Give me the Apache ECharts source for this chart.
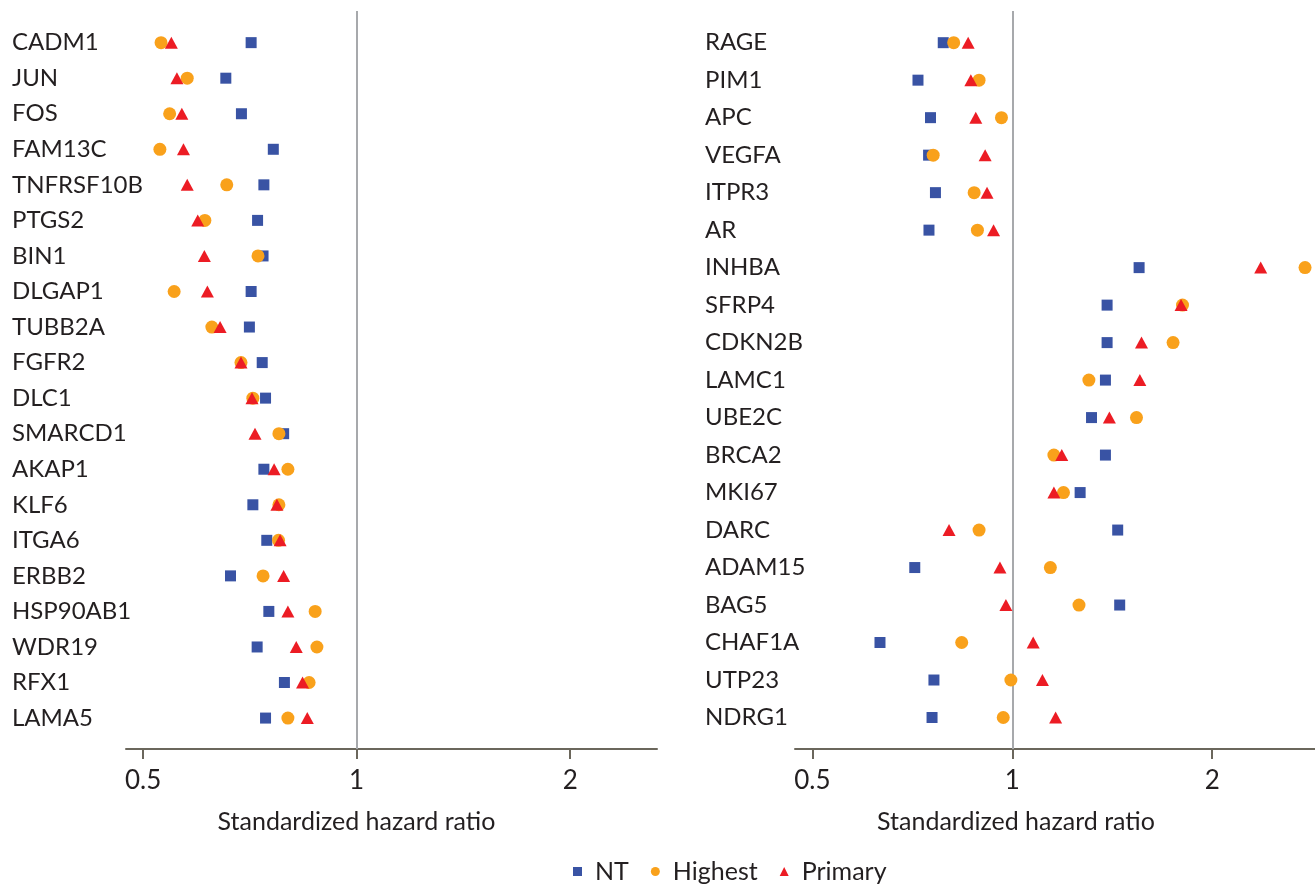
<!DOCTYPE html>
<html>
<head>
<meta charset="utf-8">
<script src="https://cdn.jsdelivr.net/npm/echarts@6/dist/echarts.min.js"></script>
<style>
html,body{margin:0;padding:0;background:#fff;}
#chart{width:1315px;height:884px;}
</style>
</head>
<body>
<div id="chart"></div>
<script>
// ---- Data (standardized hazard ratios) ----
const leftGenes = ['CADM1','JUN','FOS','FAM13C','TNFRSF10B','PTGS2','BIN1','DLGAP1','TUBB2A','FGFR2','DLC1','SMARCD1','AKAP1','KLF6','ITGA6','ERBB2','HSP90AB1','WDR19','RFX1','LAMA5'];
const leftNT      = [0.710,0.654,0.688,0.763,0.740,0.725,0.738,0.710,0.706,0.736,0.744,0.789,0.740,0.714,0.747,0.664,0.752,0.724,0.791,0.744];
const leftHighest = [0.530,0.577,0.545,0.528,0.656,0.611,0.726,0.553,0.625,0.687,0.714,0.777,0.800,0.777,0.776,0.738,0.874,0.879,0.857,0.800];
const leftPrimary = [0.548,0.558,0.567,0.570,0.577,0.597,0.610,0.616,0.642,0.687,0.712,0.719,0.765,0.772,0.780,0.789,0.800,0.822,0.839,0.852];

const rightGenes = ['RAGE','PIM1','APC','VEGFA','ITPR3','AR','INHBA','SFRP4','CDKN2B','LAMC1','UBE2C','BRCA2','MKI67','DARC','ADAM15','BAG5','CHAF1A','UTP23','NDRG1'];
const rightNT      = [0.787,0.721,0.753,0.748,0.766,0.749,1.552,1.389,1.389,1.381,1.316,1.381,1.265,1.441,0.713,1.451,0.632,0.762,0.757];
const rightHighest = [0.816,0.891,0.963,0.760,0.876,0.886,2.759,1.804,1.746,1.304,1.538,1.155,1.194,0.891,1.141,1.260,0.839,0.995,0.969];
const rightPrimary = [0.858,0.866,0.881,0.910,0.916,0.937,2.366,1.795,1.565,1.556,1.400,1.187,1.155,0.803,0.958,0.978,1.075,1.110,1.162];

const xTicks = [0.5, 1, 2];
const seriesNames = ['NT', 'Highest', 'Primary'];
const refValue = 1;

// ---- Styles ----
const FONT = 'Lato';
const TEXT = '#231f20';
const AXIS = '#6b675c';
const COLORS = {NT: '#3953a4', Highest: '#f9a11b', Primary: '#ec1c24'};
const SYMBOLS = {NT: 'rect', Highest: 'circle', Primary: 'triangle'};
const SIZES = {NT: 11, Highest: 13, Primary: [13, 12]};

function xAxisCfg(gridIndex, min, max, namePadRight) {
  return {
    type: 'log', logBase: 2, gridIndex, min, max, position: 'bottom',
    axisLine: {show: true, onZero: false, lineStyle: {color: AXIS, width: 2}},
    axisTick: {show: true, length: 10, lineStyle: {color: AXIS, width: 2}, customValues: xTicks},
    axisLabel: {show: true, customValues: xTicks, margin: 19, color: TEXT, fontFamily: FONT, fontSize: 26,
      formatter: v => String(v)},
    splitLine: {show: false},
    name: 'Standardized hazard ratio', nameLocation: 'middle', nameGap: 60,
    nameTextStyle: {color: TEXT, fontFamily: FONT, fontSize: 25, padding: [0, namePadRight, 0, 0]}
  };
}
function yAxisCfg(gridIndex, genes, min, max, margin) {
  return {
    type: 'value', gridIndex, inverse: true, min, max,
    axisLine: {show: false}, axisTick: {show: false}, splitLine: {show: false},
    axisLabel: {show: true, customValues: genes.map((g, i) => i), align: 'left', margin,
      color: TEXT, fontFamily: FONT, fontSize: 24,
      formatter: v => genes[Math.round(v)] || ''}
  };
}
function makeSeries(name, values, axisIdx, withRef) {
  const s = {
    name, type: 'scatter', xAxisIndex: axisIdx, yAxisIndex: axisIdx,
    symbol: SYMBOLS[name], symbolSize: SIZES[name],
    itemStyle: {color: COLORS[name], opacity: 1},
    data: values.map((v, i) => [v, i]),
    z: 3, silent: true
  };
  if (withRef) {
    s.markLine = {
      silent: true, symbol: ['none', 'none'], label: {show: false}, z: 1,
      lineStyle: {color: '#a7a9ac', width: 2, type: 'solid'},
      data: [{xAxis: refValue}]
    };
  }
  return s;
}

const option = {
  animation: false,
  backgroundColor: '#ffffff',
  grid: [
    {left: 126, top: 11, width: 531, height: 738},
    {left: 795, top: 11, width: 520, height: 738}
  ],
  xAxis: [xAxisCfg(0, 0.473, 2.651, 70), xAxisCfg(1, 0.4707, 2.856, 78)],
  yAxis: [yAxisCfg(0, leftGenes, -0.89, 19.87, 114), yAxisCfg(1, rightGenes, -0.845, 18.84, 90)],
  legend: {
    left: 568, top: 854, itemGap: 22, itemWidth: 9, itemHeight: 9,
    textStyle: {color: TEXT, fontFamily: FONT, fontSize: 25, padding: [0, 0, 0, 8]},
    data: seriesNames.map(n => ({name: n, icon: SYMBOLS[n], itemStyle: {color: COLORS[n]}}))
  },
  series: [
    makeSeries('NT', leftNT, 0, true),
    makeSeries('Highest', leftHighest, 0, false),
    makeSeries('Primary', leftPrimary, 0, false),
    makeSeries('NT', rightNT, 1, true),
    makeSeries('Highest', rightHighest, 1, false),
    makeSeries('Primary', rightPrimary, 1, false)
  ]
};
const chart = echarts.init(document.getElementById('chart'), null, {renderer: 'canvas'});
chart.setOption(option);
</script>
</body>
</html>
